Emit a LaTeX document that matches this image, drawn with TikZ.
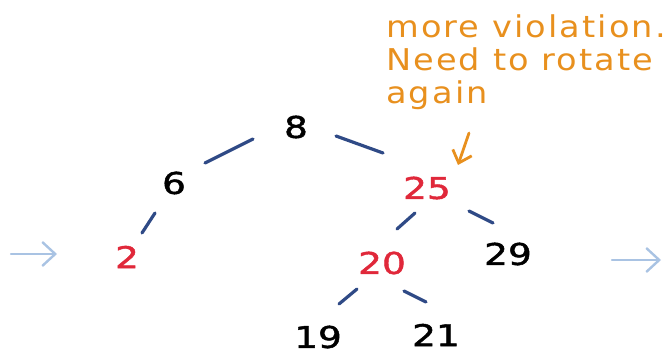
\documentclass[tikz,border=0pt]{standalone}
\usepackage{fontspec}
\setmainfont{DejaVu Sans}
\newfontfamily\notefont[LetterSpace=7,FakeStretch=1.12]{DejaVu Sans}
\newfontfamily\digitfont[FakeStretch=1.25,FakeBold=1.5]{DejaVu Sans}
\definecolor{edgeblue}{HTML}{2F4A86}
\definecolor{keyred}{HTML}{E0283A}
\definecolor{noteorange}{HTML}{E8901E}
\definecolor{lightblue}{HTML}{A9C3E3}
\usetikzlibrary{arrows.meta}
\tikzset{
  key/.style={font=\digitfont\fontsize{30}{30}\selectfont, inner sep=0pt},
  redkey/.style={key, text=keyred},
  edge/.style={draw=edgeblue, line width=3.2pt, line cap=round},
  flow/.style={draw=lightblue, line width=2.4pt, line cap=round, -{Straight Barb[length=13pt,width=24pt,line width=2.4pt]}},
  notearrow/.style={draw=noteorange, line width=2.8pt, line cap=round, -{Straight Barb[length=11pt,width=20pt,line width=2.8pt]}},
}
\begin{document}
\begin{tikzpicture}[x=1pt,y=-1pt]
\useasboundingbox (0,0) rectangle (671,355);
\node[key] (n8) at (296,127) {8};
\node[key] (n6) at (174,183) {6};
\node[redkey] (n25) at (427,188) {25};
\node[redkey] (n2) at (127,257) {2};
\node[redkey] (n20) at (382,263) {20};
\node[key] (n29) at (508,254) {29};
\node[key] (n19) at (318,337) {19};
\node[key] (n21) at (436,335) {21};

\draw[edge] ([shift={(-43,12)}]n8.center) -- ([shift={(31,-20)}]n6.center);
\draw[edge] ([shift={(40,9)}]n8.center) -- ([shift={(-44,-35)}]n25.center);
\draw[edge] ([shift={(-19,30)}]n6.center) -- ([shift={(15,-24)}]n2.center);
\draw[edge] ([shift={(-12,25)}]n25.center) -- ([shift={(15,-34)}]n20.center);
\draw[edge] ([shift={(42,23)}]n25.center) -- ([shift={(-15,-31)}]n29.center);
\draw[edge] ([shift={(-25,26)}]n20.center) -- ([shift={(21,-33)}]n19.center);
\draw[edge] ([shift={(22,28)}]n20.center) -- ([shift={(-10,-33)}]n21.center);

\node[anchor=north west, inner sep=0pt, text=noteorange, align=left,
      font=\notefont\fontsize{30}{33}\selectfont] (note) at (386,15)
  {more violation.\\Need to rotate\\again};
\draw[notearrow] ([shift={(42,-55)}]n25.center) -- ([shift={(31,-23)}]n25.center);

\coordinate (l1) at (11,254);
\coordinate (l2) at (57,254);
\coordinate (r1) at (612,260);
\coordinate (r2) at (661,260);
\draw[flow] (l1) -- (l2);
\draw[flow] (r1) -- (r2);
\end{tikzpicture}
\end{document}
